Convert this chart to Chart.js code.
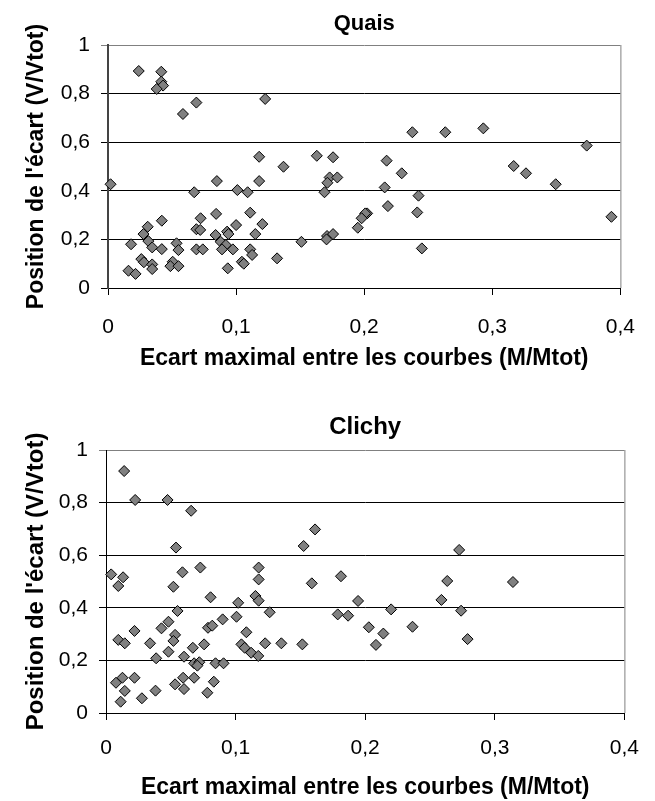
<!DOCTYPE html>
<html>
<head>
<meta charset="utf-8">
<script src="https://cdn.jsdelivr.net/npm/chart.js@4.4.1/dist/chart.umd.min.js"></script>
<style>
  html, body { margin: 0; padding: 0; background: #fff; }
  #wrap { position: relative; width: 655px; height: 801px; }
  canvas { position: absolute; left: 0; }
</style>
</head>
<body>
<div id="wrap">
  <canvas id="quais" width="655" height="400" style="top:0"></canvas>
  <canvas id="clichy" width="655" height="401" style="top:400px"></canvas>
</div>
<script>
// Quais : écart maximal (x) / position de l'écart (y)
const quaisX = [0.024, 0.0416, 0.0416, 0.043, 0.038, 0.069, 0.0585, 0.1227,
  0.002, 0.0673, 0.085, 0.101, 0.109, 0.118, 0.111, 0.042, 0.031, 0.0277, 0.018, 0.0315,
  0.0345, 0.042, 0.026, 0.028, 0.0345, 0.0345, 0.016, 0.0215, 0.0723, 0.069, 0.072, 0.069,
  0.074, 0.0844, 0.084, 0.088, 0.093, 0.094, 0.092, 0.089, 0.0975, 0.100, 0.0935, 0.1045,
  0.106, 0.111, 0.1125, 0.0535, 0.055, 0.0505, 0.0487, 0.055,
  0.118, 0.137, 0.1205, 0.115, 0.132, 0.151, 0.163, 0.1757, 0.173, 0.1713, 0.179, 0.169,
  0.171, 0.1706, 0.1757, 0.2175, 0.2293, 0.216, 0.2185, 0.2023, 0.2008, 0.198, 0.195,
  0.2376, 0.2633, 0.293, 0.3737, 0.3167, 0.3263, 0.3495, 0.393, 0.2424, 0.2414, 0.245];
const quaisY = [0.893, 0.89, 0.849, 0.833, 0.819, 0.763, 0.716, 0.778,
  0.427, 0.394, 0.44, 0.403, 0.394, 0.44, 0.31, 0.277, 0.252, 0.222, 0.18, 0.193,
  0.167, 0.16, 0.119, 0.106, 0.097, 0.078, 0.071, 0.058, 0.287, 0.242, 0.239, 0.159,
  0.159, 0.305, 0.218, 0.19, 0.232, 0.222, 0.177, 0.159, 0.159, 0.259, 0.081, 0.108,
  0.1, 0.159, 0.136, 0.184, 0.156, 0.108, 0.09, 0.09,
  0.54, 0.499, 0.263, 0.222, 0.122, 0.19, 0.544, 0.538, 0.455, 0.433, 0.455, 0.394,
  0.214, 0.2, 0.222, 0.524, 0.472, 0.414, 0.337, 0.307, 0.307, 0.287, 0.248,
  0.641, 0.641, 0.657, 0.586, 0.502, 0.472, 0.427, 0.293, 0.38, 0.311, 0.163];

// Clichy
const clichyX = [0.014, 0.0225, 0.0475, 0.0657, 0.054, 0.0728, 0.004, 0.0132, 0.0095,
  0.059, 0.052, 0.0807, 0.102, 0.1007, 0.0552, 0.0482, 0.0428, 0.0533, 0.052, 0.022,
  0.0095, 0.0145, 0.034, 0.0482, 0.0387, 0.0602, 0.067, 0.0757, 0.0787, 0.082, 0.09,
  0.1083, 0.1045, 0.107, 0.112, 0.068, 0.072, 0.0705, 0.0845, 0.0907, 0.0077, 0.0127,
  0.022, 0.0145, 0.0113, 0.0277, 0.0382, 0.0533, 0.0595, 0.0602, 0.068, 0.0832, 0.0782,
  0.1613, 0.1525, 0.1178, 0.1178, 0.1588, 0.1813, 0.1153, 0.1178, 0.1263, 0.1945,
  0.1788, 0.1868, 0.22, 0.2028, 0.214, 0.2083, 0.1175, 0.1228, 0.1353, 0.1515,
  0.2725, 0.2633, 0.314, 0.2588, 0.274, 0.2365, 0.279];
const clichyY = [0.92, 0.81, 0.81, 0.769, 0.629, 0.553, 0.527, 0.516, 0.483,
  0.535, 0.48, 0.44, 0.419, 0.366, 0.388, 0.347, 0.322, 0.297, 0.274, 0.312,
  0.278, 0.265, 0.265, 0.233, 0.208, 0.214, 0.248, 0.261, 0.324, 0.332, 0.356,
  0.307, 0.261, 0.248, 0.229, 0.189, 0.193, 0.18, 0.189, 0.189, 0.115, 0.134,
  0.134, 0.084, 0.043, 0.056, 0.085, 0.109, 0.134, 0.091, 0.134, 0.119, 0.077,
  0.698, 0.635, 0.553, 0.508, 0.493, 0.52, 0.445, 0.427, 0.383, 0.426,
  0.375, 0.37, 0.394, 0.326, 0.302, 0.259, 0.217, 0.265, 0.265, 0.261,
  0.62, 0.502, 0.498, 0.43, 0.389, 0.328, 0.281];

const xTickLabels = ['0', '0,1', '0,2', '0,3', '0,4'];
const yTickLabels = ['0', '0,2', '0,4', '0,6', '0,8', '1'];

const xTitle = 'Ecart maximal entre les courbes (M/Mtot)';
const yTitle = "Position de l'écart (V/Vtot)";

Chart.defaults.font.family = "'Liberation Sans', Arial, sans-serif";
Chart.defaults.color = '#000';

// grey right-hand border of the plot area
const frame = {
  id: 'frame',
  beforeDatasetsDraw(chart) {
    const a = chart.chartArea;
    const ctx = chart.ctx;
    ctx.save();
    ctx.strokeStyle = '#808080';
    ctx.lineWidth = 1;
    ctx.beginPath();
    ctx.moveTo(a.right + 0.5, a.top);
    ctx.lineTo(a.right + 0.5, a.bottom);
    ctx.stroke();
    ctx.restore();
  }
};

function makeChart(id, title, xs, ys, lay) {
  const points = xs.map((x, i) => ({ x: x, y: ys[i] }));
  return new Chart(document.getElementById(id), {
    type: 'scatter',
    data: {
      datasets: [{
        data: points,
        pointStyle: 'rectRot',
        pointRadius: 5.5,
        pointHoverRadius: 5.5,
        backgroundColor: '#808080',
        borderColor: '#000',
        borderWidth: 1,
        clip: false
      }]
    },
    options: {
      responsive: false,
      animation: false,
      events: [],
      layout: { padding: { left: 0, right: lay.right, top: 0, bottom: 0 } },
      plugins: {
        legend: { display: false },
        tooltip: { enabled: false },
        title: {
          display: true,
          text: title,
          fullSize: false,
          font: { size: lay.titleSize, weight: 'bold' },
          padding: { top: lay.titleTop, bottom: lay.titleBottom },
          color: '#000'
        }
      },
      scales: {
        x: {
          type: 'linear',
          min: 0,
          max: 0.4,
          afterFit(scale) { scale.height = lay.xHeight; },
          ticks: {
            stepSize: 0.1,
            padding: lay.xTickPad,
            maxRotation: 0,
            font: { size: 21 },
            color: '#000',
            callback: (v, i) => xTickLabels[i]
          },
          grid: { drawOnChartArea: false, drawTicks: true, tickLength: 7, color: '#000' },
          border: { color: '#000', width: 1 },
          title: {
            display: true,
            text: xTitle,
            font: { size: 23, weight: 'bold' },
            padding: { top: 0, bottom: lay.xTitleBottom },
            color: '#000'
          }
        },
        y: {
          type: 'linear',
          min: 0,
          max: 1,
          afterFit(scale) { scale.width = lay.yWidth; },
          ticks: {
            stepSize: 0.2,
            padding: 11,
            font: { size: 21 },
            color: '#000',
            callback: (v, i) => yTickLabels[i]
          },
          grid: {
            drawTicks: true,
            tickLength: 7,
            color: (c) => (c.tick && c.tick.value === 1 ? '#808080' : '#000'),
            lineWidth: 1
          },
          border: { color: lay.yBorder, width: lay.yBorderWidth },
          title: {
            display: true,
            text: yTitle,
            font: { size: lay.yTitleSize, weight: 'bold' },
            padding: { top: lay.yTitleTop, bottom: 0 },
            color: '#000'
          }
        }
      }
    },
    plugins: [frame]
  });
}

makeChart('quais', 'Quais', quaisX, quaisY, {
  right: 18, titleSize: 22, titleTop: 11, titleBottom: 7.6,
  xHeight: 112, xTickPad: 20, xTitleBottom: 28,
  yWidth: 108, yBorder: '#444', yBorderWidth: 2, yTitleSize: 23, yTitleTop: 22.7
});

makeChart('clichy', 'Clichy', clichyX, clichyY, {
  right: 16, titleSize: 24, titleTop: 13, titleBottom: 8.2,
  xHeight: 88, xTickPad: 16, xTitleBottom: 0,
  yWidth: 106, yBorder: '#000', yBorderWidth: 1, yTitleSize: 24, yTitleTop: 22
});
</script>
</body>
</html>
